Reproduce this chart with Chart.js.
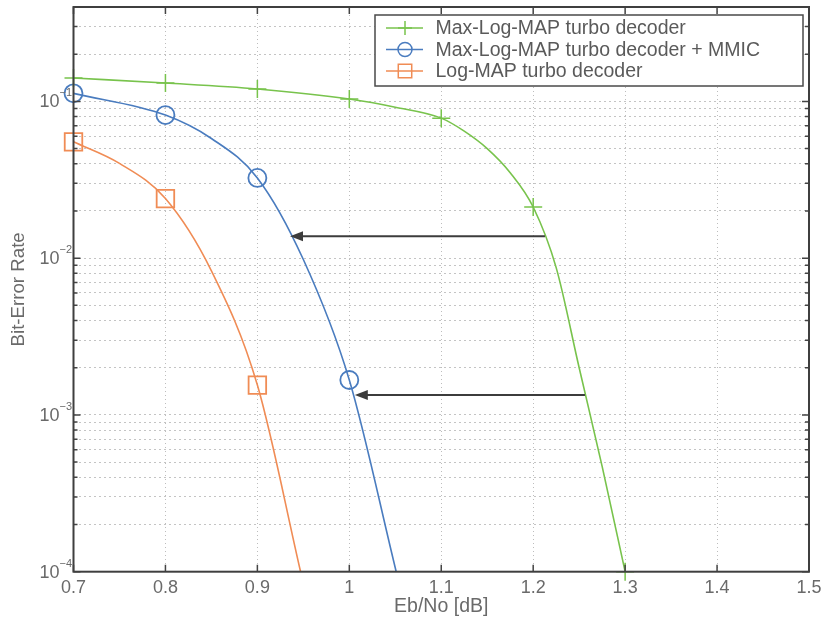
<!DOCTYPE html>
<html>
<head>
<meta charset="utf-8">
<script src="https://cdn.jsdelivr.net/npm/chart.js@4/dist/chart.umd.min.js"></script>
<style>
  html, body { margin: 0; padding: 0; background: #ffffff; }
  #wrap { width: 823px; height: 624px; position: relative; }
</style>
</head>
<body>
<div id="wrap"><canvas id="c"></canvas></div>
<script>
// Bit-error rate of the three decoders versus Eb/No
const maxLogMapX = [0.7, 0.8, 0.9, 1.0, 1.05, 1.1, 1.125, 1.15, 1.175, 1.2, 1.225, 1.25, 1.275, 1.3];
const maxLogMapBer = [0.141, 0.131, 0.120, 0.1035, 0.0918, 0.0782, 0.0646, 0.0500, 0.0351, 0.0212, 0.0087, 0.0020, 0.00047, 0.0001];
const mmicX = [0.7, 0.8, 0.85, 0.9, 0.95, 1.0, 1.051];
const mmicBer = [0.1125, 0.0818, 0.058, 0.0325, 0.0098, 0.00167, 0.0001];
const logMapX = [0.7, 0.75, 0.8, 0.85, 0.9, 0.947];
const logMapBer = [0.0552, 0.0402, 0.0240, 0.0083, 0.00155, 0.0001];
const seriesNames = [
  'Max-Log-MAP turbo decoder',
  'Max-Log-MAP turbo decoder + MMIC',
  'Log-MAP turbo decoder'
];
const xTicks = [0.7, 0.8, 0.9, 1.0, 1.1, 1.2, 1.3, 1.4, 1.5];
const yDecades = [-4, -3, -2, -1];
// gain arrows: from the Max-Log-MAP curve to the MMIC curve
const arrowBer = [0.0138, 0.00134];
const arrowFromX = [1.2128, 1.2563];
const arrowToX = [0.9355, 1.006];

const GREEN = '#78c34c';
const BLUE = '#4a7cbf';
const ORANGE = '#f08c55';
const TEXT = '#6a6a6a';

function toPoints(xs, ys) { return xs.map((x, i) => ({ x: x, y: ys[i] })); }
// markers only on the 0.1 dB grid
function markerRadii(xs, r) { return xs.map(x => (Math.abs(x * 10 - Math.round(x * 10)) < 1e-6 ? r : 0)); }

const datasets = [
  {
    label: seriesNames[0], data: toPoints(maxLogMapX, maxLogMapBer),
    borderColor: GREEN, pointBorderColor: GREEN, backgroundColor: 'rgba(0,0,0,0)',
    pointStyle: 'cross', pointRadius: markerRadii(maxLogMapX, 9), pointBorderWidth: 1.5
  },
  {
    label: seriesNames[1], data: toPoints(mmicX, mmicBer),
    borderColor: BLUE, pointBorderColor: BLUE, backgroundColor: 'rgba(0,0,0,0)',
    pointStyle: 'circle', pointRadius: markerRadii(mmicX, 9), pointBorderWidth: 1.8
  },
  {
    label: seriesNames[2], data: toPoints(logMapX, logMapBer),
    borderColor: ORANGE, pointBorderColor: ORANGE, backgroundColor: 'rgba(0,0,0,0)',
    pointStyle: 'rect', pointRadius: markerRadii(logMapX, 12.4), pointBorderWidth: 1.8
  }
];

// y grid at every 1..9 x 10^n up to the top of the axis
function logGridValues(minExp, top) {
  const v = [];
  for (let e = minExp; e <= 0; e++) {
    for (let m = 1; m <= 9; m++) {
      const val = m * Math.pow(10, e);
      if (val < top * 0.999) v.push(val);
    }
  }
  return v;
}

const frame = {
  id: 'frame',
  afterDraw(chart) {
    const ctx = chart.ctx, a = chart.chartArea;
    const xs = chart.scales.x, ys = chart.scales.y;
    ctx.save();
    // inward tick marks
    ctx.strokeStyle = '#444';
    ctx.lineWidth = 1.5;
    ctx.beginPath();
    xTicks.forEach(t => {
      const px = xs.getPixelForValue(t);
      ctx.moveTo(px, a.bottom); ctx.lineTo(px, a.bottom - 7);
      ctx.moveTo(px, a.top); ctx.lineTo(px, a.top + 7);
    });
    logGridValues(-4, ys.max).forEach(v => {
      const py = ys.getPixelForValue(v);
      const major = Math.abs(Math.log10(v) - Math.round(Math.log10(v))) < 1e-9;
      const len = major ? 7 : 4;
      ctx.moveTo(a.left, py); ctx.lineTo(a.left + len, py);
      ctx.moveTo(a.right, py); ctx.lineTo(a.right - len, py);
    });
    ctx.stroke();
    // axes box
    ctx.strokeStyle = '#3f3f3f';
    ctx.lineWidth = 2;
    ctx.strokeRect(a.left, a.top, a.right - a.left, a.bottom - a.top);

    // y tick labels with exponents
    ctx.fillStyle = TEXT;
    ctx.textBaseline = 'alphabetic';
    yDecades.forEach(e => {
      const py = ys.getPixelForValue(Math.pow(10, e));
      ctx.font = '18px "Liberation Sans", Arial, sans-serif';
      ctx.textAlign = 'right';
      ctx.fillText('10', a.left - 14, py + 6);
      ctx.font = '11px "Liberation Sans", Arial, sans-serif';
      ctx.textAlign = 'left';
      ctx.fillText('\u2212' + Math.abs(e), a.left - 14, py - 5);
    });

    // gain arrows
    ctx.strokeStyle = '#3c3c3c';
    ctx.fillStyle = '#3c3c3c';
    ctx.lineWidth = 2;
    arrowBer.forEach((b, i) => {
      const py = ys.getPixelForValue(b);
      const x0 = xs.getPixelForValue(arrowFromX[i]);
      const x1 = xs.getPixelForValue(arrowToX[i]);
      ctx.beginPath();
      ctx.moveTo(x0, py); ctx.lineTo(x1 + 10, py);
      ctx.stroke();
      ctx.beginPath();
      ctx.moveTo(x1, py); ctx.lineTo(x1 + 13, py - 5); ctx.lineTo(x1 + 13, py + 5);
      ctx.closePath(); ctx.fill();
    });

    // legend
    const lx = 375, ly = 15, lw = 428, lh = 71;
    ctx.fillStyle = '#ffffff';
    ctx.fillRect(lx, ly, lw, lh);
    ctx.strokeStyle = '#4a4a4a';
    ctx.lineWidth = 1.5;
    ctx.strokeRect(lx, ly, lw, lh);
    const rowY = [28, 49.5, 71];
    const legendR = [7, 7, 9.5];
    chart.data.datasets.forEach((ds, i) => {
      const y = rowY[i];
      ctx.strokeStyle = ds.borderColor;
      ctx.fillStyle = 'rgba(0,0,0,0)';
      ctx.lineWidth = 1.5;
      ctx.beginPath(); ctx.moveTo(386, y); ctx.lineTo(423, y); ctx.stroke();
      Chart.helpers.drawPoint(ctx, {
        pointStyle: ds.pointStyle, radius: legendR[i], borderWidth: 1.5, rotation: 0
      }, 405, y);
      ctx.fillStyle = '#5a5a5a';
      ctx.font = '19.5px "Liberation Sans", Arial, sans-serif';
      ctx.textAlign = 'left';
      ctx.textBaseline = 'middle';
      ctx.fillText(ds.label, 435.5, y + 1);
    });
    ctx.restore();
  }
};

new Chart(document.getElementById('c'), {
  type: 'line',
  data: { datasets: datasets },
  options: {
    responsive: true,
    maintainAspectRatio: false,
    animation: false,
    layout: { autoPadding: false, padding: { top: 7, right: 14, left: 0, bottom: 0 } },
    elements: {
      line: { borderWidth: 1.6, cubicInterpolationMode: 'monotone', fill: false },
      point: { hoverRadius: 0 }
    },
    datasets: { line: { clip: false } },
    plugins: { legend: { display: false }, tooltip: { enabled: false } },
    scales: {
      x: {
        type: 'linear', min: 0.7, max: 1.5,
        afterBuildTicks(s) { s.ticks = xTicks.map(v => ({ value: v })); },
        afterFit(s) { s.height = 52.3; s.paddingLeft = 0; s.paddingRight = 0; s.paddingTop = 0; s.paddingBottom = 0; },
        ticks: {
          color: TEXT, padding: 6,
          font: { family: '"Liberation Sans", Arial, sans-serif', size: 18 },
          callback: v => String(Number(Number(v).toFixed(1)))
        },
        grid: { color: '#bdbdbd', lineWidth: 1, drawTicks: false },
        border: { display: false, dash: [1, 3] },
        title: {
          display: true, text: 'Eb/No [dB]', color: TEXT, padding: { top: 0, bottom: 6 },
          font: { family: '"Liberation Sans", Arial, sans-serif', size: 19.5 }
        }
      },
      y: {
        type: 'logarithmic', min: 1e-4, max: 0.4,
        afterBuildTicks(s) { s.ticks = logGridValues(-4, 0.4).map(v => ({ value: v })); },
        afterFit(s) { s.width = 73.5; s.paddingLeft = 0; s.paddingRight = 0; s.paddingTop = 0; s.paddingBottom = 0; },
        ticks: { display: false, autoSkip: false },
        grid: { color: '#c4c4c4', lineWidth: 1, drawTicks: false },
        border: { display: false, dash: [2, 3] },
        title: {
          display: true, text: 'Bit-Error Rate', color: TEXT, padding: { top: 8, bottom: 0 },
          font: { family: '"Liberation Sans", Arial, sans-serif', size: 18.7 }
        }
      }
    }
  },
  plugins: [frame]
});
</script>
</body>
</html>
